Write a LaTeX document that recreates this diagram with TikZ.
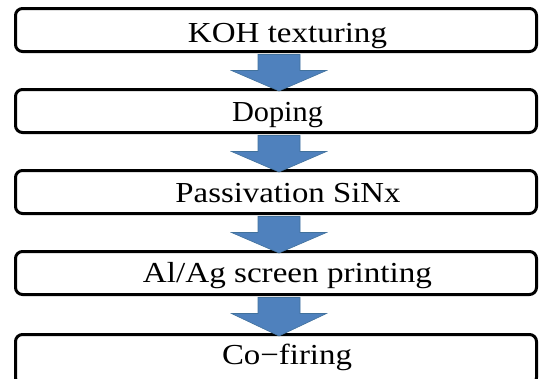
\documentclass[tikz,border=0pt]{standalone}
\usepackage{fontspec}
\setmainfont{Liberation Serif}
\usetikzlibrary{calc}
\definecolor{arrowblue}{HTML}{4F81BD}
\definecolor{arrowedge}{HTML}{41719C}
\tikzset{
  stepbox/.style={draw=black, line width=3pt, rounded corners=7pt, fill=white,
    minimum width=521pt, minimum height=43pt, inner sep=0pt},
  steptext/.style={anchor=base, inner sep=0pt, font=\fontsize{29pt}{34pt}\selectfont},
  flowarrow/.style={fill=arrowblue, draw=arrowedge, line width=0.6pt}
}
\newcommand{\fitw}[2]{\resizebox{#1}{\height}{#2}}
\newcommand{\flowarrowpath}[2]{%
  \path[flowarrow]
    ($(#1.south)+(-18,1.5)$) -- ($(#1.south)+(-18,17.5)$) --
    ($(#1.south)+(-44.5,17.5)$) -- ($(#2.north)+(3,3)$) --
    ($(#1.south)+(50.5,17.5)$) -- ($(#1.south)+(24,17.5)$) --
    ($(#1.south)+(24,1.5)$) -- cycle;}
\begin{document}
\begin{tikzpicture}[x=1pt,y=-1pt]
\useasboundingbox (0,0) rectangle (541,378);
\clip (0,0) rectangle (541,378);
\node[stepbox] (b1) at (276,30) {};
\node[stepbox] (b2) at (276,111) {};
\node[stepbox] (b3) at (276,192) {};
\node[stepbox] (b4) at (276,273) {};
\node[stepbox, minimum height=50pt] (b5) at (276,359.5) {};
\node[steptext] (t1) at (287.5,42) {\fitw{199pt}{KOH texturing}};
\node[steptext] (t2) at (277.5,121) {\fitw{91pt}{Doping}};
\node[steptext] (t3) at (288,202) {\fitw{225pt}{Passivation SiNx}};
\node[steptext] (t4) at (287.5,282) {\fitw{289pt}{Al/Ag screen printing}};
\node[steptext] (t5) at (287,364) {\fitw{130pt}{Co−firing}};
\flowarrowpath{b1}{b2}
\flowarrowpath{b2}{b3}
\flowarrowpath{b3}{b4}
\flowarrowpath{b4}{b5}
\end{tikzpicture}
\end{document}
